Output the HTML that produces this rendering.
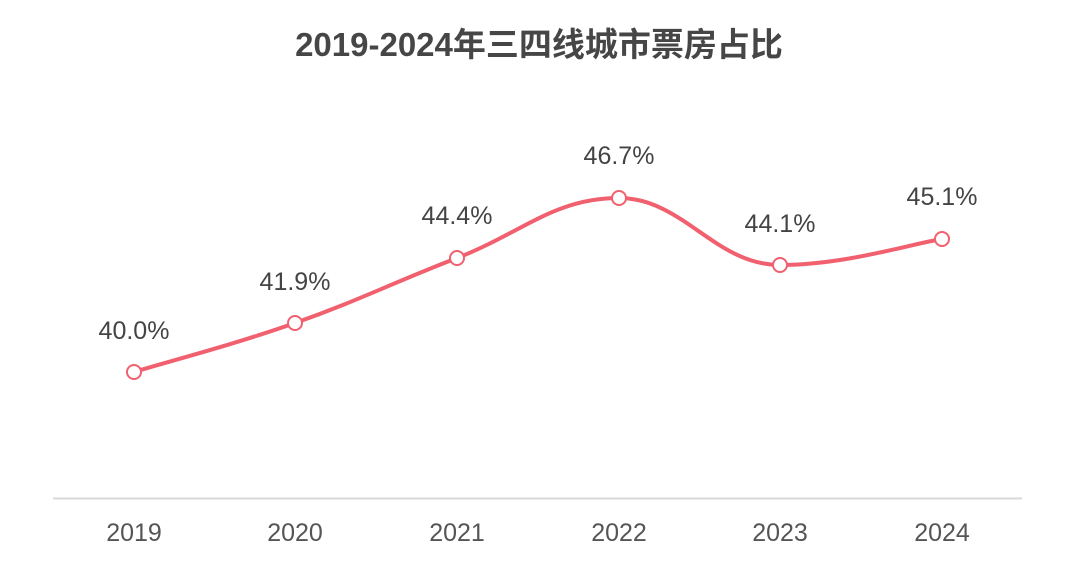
<!DOCTYPE html>
<html><head><meta charset="utf-8"><style>
body{margin:0;background:#fff;}
svg text{font-family:"Liberation Sans","Noto Sans CJK SC",sans-serif;}
</style></head><body>
<svg width="1080" height="580" viewBox="0 0 1080 580" xmlns="http://www.w3.org/2000/svg">
<rect width="1080" height="580" fill="#fff"/>
<text x="539" y="56" text-anchor="middle" font-size="33" font-weight="bold" fill="#464646">2019-2024年三四线城市票房占比</text>
<line x1="53" y1="498.5" x2="1022" y2="498.5" stroke="#d9d9d9" stroke-width="2"/>
<g font-size="25" fill="#555" text-anchor="middle">
<text x="134" y="541">2019</text><text x="295" y="541">2020</text><text x="457" y="541">2021</text>
<text x="619" y="541">2022</text><text x="780" y="541">2023</text><text x="942" y="541">2024</text>
</g>
<path d="M134,372 C166,362 230.4,345.8 295,323 C359.6,300.2 392.2,283 457,258 C521.8,233 554,198 619,198 C683,198 715,265 780,265 C845,265 909.6,244.2 942,239" fill="none" stroke="#f0606e" stroke-width="4"/>
<g fill="#fff" stroke="#f0606e" stroke-width="2">
<circle cx="134" cy="372" r="7"/><circle cx="295" cy="323" r="7"/><circle cx="457" cy="258" r="7"/>
<circle cx="619" cy="198" r="7"/><circle cx="780" cy="265" r="7"/><circle cx="942" cy="239" r="7"/>
</g>
<g font-size="25" fill="#444" text-anchor="middle">
<text x="134" y="339">40.0%</text><text x="295" y="290">41.9%</text><text x="457" y="224">44.4%</text>
<text x="619" y="164">46.7%</text><text x="780" y="232">44.1%</text><text x="942" y="205">45.1%</text>
</g>
</svg>
</body></html>
